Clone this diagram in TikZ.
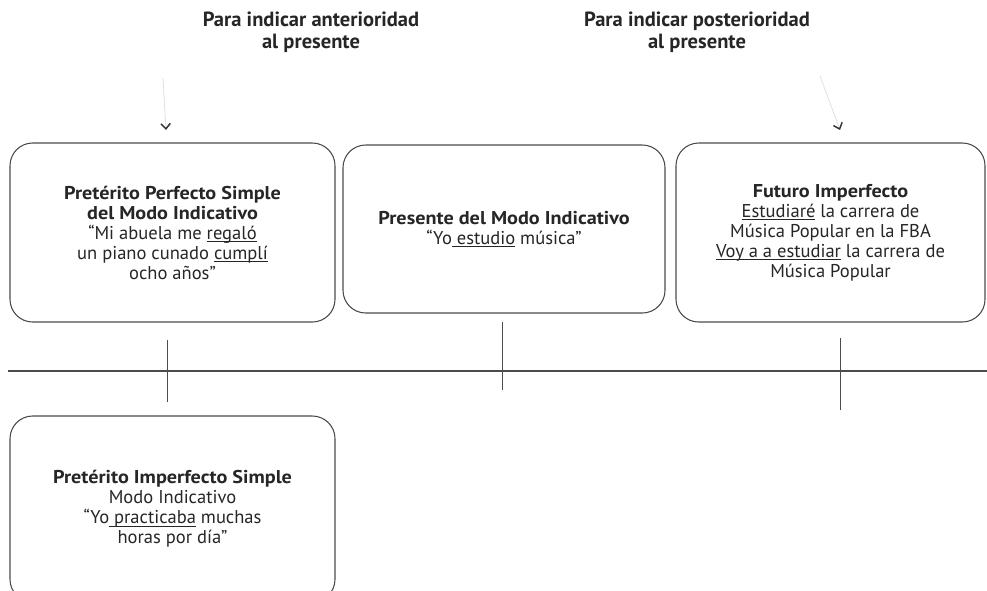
\documentclass[tikz,border=0pt]{standalone}
\usepackage{fontspec}
\setmainfont{PT Sans}[BoldFeatures={FakeStretch=1.09}]
\newfontfamily\headfont{PT Sans}
\usetikzlibrary{arrows.meta}
\newcommand{\myul}[1]{\setbox0\hbox{#1}\rlap{\rule[-2pt]{\wd0}{0.55pt}}\box0\relax}
\begin{document}
\begin{tikzpicture}[x=0.75pt,y=-0.75pt,
  box/.style={draw=black!70, line width=0.8pt, rounded corners=17pt, align=center,
    font=\fontsize{13.9}{15}\selectfont, text=black!85, inner sep=0pt},
  head/.style={align=center, font=\headfont\bfseries\fontsize{15.4}{16.5}\selectfont, text=black!85},
  tick/.style={draw=black!70, line width=0.7pt},
  shaft/.style={draw=black!12, line width=0.6pt,
    -{Straight Barb[length=4pt,width=7pt,line width=1.1pt,color=black!80]}}]
\useasboundingbox (0,0) rectangle (987,590);
\clip (0,0) rectangle (987,590);
\fill[white] (0,0) rectangle (987,590);

\node[head] (h1) at (311,32) {Para indicar anterioridad\\al presente};
\node[head] (h2) at (697,32) {Para indicar posterioridad\\al presente};

\coordinate (a1s) at (163,78);
\coordinate (a1e) at (166,130);
\coordinate (a2s) at (820,76);
\coordinate (a2e) at (840,130);
\draw[shaft] (a1s) -- (a1e);
\draw[shaft] (a2s) -- (a2e);

\node[box, minimum width={325*0.75pt}, minimum height={179*0.75pt}] (b1) at (172.5,232.5)
 {\textbf{Pretérito Perfecto Simple}\\\textbf{del Modo Indicativo}\\“Mi abuela me \myul{regaló}\\un piano cunado \myul{cumplí}\\ocho años”};
\node[box, minimum width={322*0.75pt}, minimum height={168*0.75pt}] (b2) at (504,229)
 {\textbf{Presente del Modo Indicativo}\\“Yo\myul{ estudio} música”};
\node[box, minimum width={309*0.75pt}, minimum height={179*0.75pt}] (b3) at (830.5,232.5)
 {\textbf{Futuro Imperfecto}\\\myul{Estudiaré} la carrera de\\Música Popular en la FBA\\\myul{Voy a a estudiar} la carrera de\\Música Popular};
\node[box, minimum width={325*0.75pt}, minimum height={186*0.75pt}] (b4) at (172.5,509)
 {\textbf{Pretérito Imperfecto Simple}\\Modo Indicativo\\“Yo\myul{ practicaba} muchas\\horas por día”};

\coordinate (l0) at (8,371);
\coordinate (l1) at (987,371);
\draw[tick, line width=0.8pt] (l0) -- (l1);
\coordinate (t1a) at (167,340); \coordinate (t1b) at (167,402);
\coordinate (t2a) at (502,322); \coordinate (t2b) at (502,390);
\coordinate (t3a) at (840,338); \coordinate (t3b) at (840,410);
\draw[tick] (t1a) -- (t1b);
\draw[tick] (t2a) -- (t2b);
\draw[tick] (t3a) -- (t3b);
\end{tikzpicture}
\end{document}
